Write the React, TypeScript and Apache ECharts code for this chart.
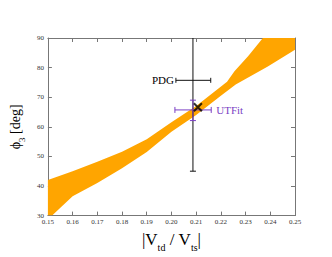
import React, { useEffect, useRef } from "react";
import * as echarts from "echarts";

// Allowed band (orange): upper and lower boundaries
const upperX = [0.15, 0.16, 0.17, 0.18, 0.19, 0.2, 0.21, 0.2225, 0.2255, 0.231, 0.237, 0.25];
const upperY = [42, 45, 48.2, 51.6, 55.8, 61.5, 67, 75.2, 78.8, 83.8, 90, 90];
const lowerX = [0.15, 0.1517, 0.16, 0.17, 0.18, 0.19, 0.2, 0.21, 0.22, 0.226, 0.239, 0.25];
const lowerY = [30, 30, 36.5, 41, 46, 51.5, 58.3, 64, 70.5, 74.3, 80.4, 86];

// Error-bar measurements
const measNames = ["PDG", "UTFit"];
const measX = [0.2087, 0.2087];
const measXLo = [0.2018, 0.2014];
const measXHi = [0.2159, 0.2161];
const measY = [75.7, 65.7];
const measYLo = [45, 62.1];
const measYHi = [106, 69];
const measColors = ["#111111", "#7a3fc4"];

// Best-fit point
const fitPoint = [[0.2107, 66.6]];

const SERIF = "'Liberation Serif', 'DejaVu Serif', serif";

export default function App() {
  const ref = useRef<HTMLDivElement>(null);
  useEffect(() => {
    if (!ref.current) return;
    const chart = echarts.init(ref.current, null, { renderer: "svg" });
    const axisColor = "#777";
    const labelStyle = { fontSize: 7, color: "#333", fontFamily: SERIF };
    const measData = measNames.map((n, i) => [measX[i], measY[i], measXLo[i], measXHi[i], measYLo[i], measYHi[i], i]);
    chart.setOption({
      animation: false,
      grid: { left: 39, top: 38, right: 37, bottom: 39 },
      xAxis: [
        {
          type: "value",
          min: 0.15,
          max: 0.25,
          interval: 0.01,
          position: "bottom",
          axisLine: { lineStyle: { color: axisColor } },
          axisTick: { inside: true, length: 4, lineStyle: { color: axisColor } },
          axisLabel: { ...labelStyle, margin: 3, showMinLabel: true, showMaxLabel: true, formatter: (v: number) => v.toFixed(2) },
          splitLine: { show: false },
          name: "{a||V}{s|td}{a| / V}{s|ts}{a||}",
          nameLocation: "middle",
          nameGap: 8,
          nameTextStyle: {
            fontFamily: SERIF,
            color: "#000",
            rich: {
              a: { fontSize: 17, fontFamily: SERIF, color: "#000", lineHeight: 26, verticalAlign: "middle" },
              s: { fontSize: 10, fontFamily: SERIF, color: "#000", lineHeight: 10, verticalAlign: "bottom" },
            },
          },
        },
        {
          type: "value",
          min: 0.15,
          max: 0.25,
          interval: 0.01,
          position: "top",
          axisLine: { lineStyle: { color: axisColor } },
          axisTick: { inside: true, length: 4, lineStyle: { color: axisColor } },
          axisLabel: { show: false },
          splitLine: { show: false },
        },
      ],
      yAxis: [
        {
          type: "value",
          min: 30,
          max: 90,
          interval: 10,
          position: "left",
          axisLine: { lineStyle: { color: axisColor } },
          axisTick: { inside: true, length: 4, lineStyle: { color: axisColor } },
          axisLabel: { ...labelStyle, margin: 4, showMinLabel: true, showMaxLabel: true },
          splitLine: { show: false },
          name: "{a|ϕ}{s|3}{a| [deg]}",
          nameLocation: "middle",
          nameGap: 8,
          nameTextStyle: {
            fontFamily: SERIF,
            color: "#000",
            rich: {
              a: { fontSize: 14, fontFamily: SERIF, color: "#000", lineHeight: 22, verticalAlign: "middle" },
              s: { fontSize: 9, fontFamily: SERIF, color: "#000", lineHeight: 9, verticalAlign: "bottom" },
            },
          },
        },
        {
          type: "value",
          min: 30,
          max: 90,
          interval: 10,
          position: "right",
          axisLine: { lineStyle: { color: axisColor } },
          axisTick: { inside: true, length: 4, lineStyle: { color: axisColor } },
          axisLabel: { show: false },
          splitLine: { show: false },
        },
      ],
      series: [
        {
          type: "custom",
          coordinateSystem: "cartesian2d",
          clip: true,
          silent: true,
          z: 1,
          data: [[0.2, 60]],
          renderItem: (_params: any, api: any) => {
            const pts = [
              ...upperX.map((x, i) => api.coord([x, upperY[i]])),
              ...lowerX.map((x, i) => api.coord([x, lowerY[i]])).reverse(),
            ];
            return { type: "polygon", shape: { points: pts }, style: { fill: "#ffa500", stroke: "none" } };
          },
        },
        {
          type: "custom",
          coordinateSystem: "cartesian2d",
          clip: true,
          silent: true,
          z: 3,
          data: measData,
          renderItem: (_params: any, api: any) => {
            const idx = api.value(6);
            const color = measColors[idx];
            const c = api.coord([api.value(0), api.value(1)]);
            const xl = api.coord([api.value(2), api.value(1)]);
            const xh = api.coord([api.value(3), api.value(1)]);
            const yl = api.coord([api.value(0), api.value(4)]);
            const yh = api.coord([api.value(0), api.value(5)]);
            const st = { stroke: color, lineWidth: 1 };
            const cap = idx === 0 ? 2.5 : 3;
            const ln = (x1: number, y1: number, x2: number, y2: number) => ({
              type: "line",
              shape: { x1, y1, x2, y2 },
              style: st,
            });
            return {
              type: "group",
              children: [
                ln(xl[0], c[1], xh[0], c[1]),
                ln(xl[0], c[1] - cap, xl[0], c[1] + cap),
                ln(xh[0], c[1] - cap, xh[0], c[1] + cap),
                ln(c[0], yl[1], c[0], yh[1]),
                ln(c[0] - 3, yl[1], c[0] + 3, yl[1]),
                ln(c[0] - 3, yh[1], c[0] + 3, yh[1]),
              ],
            };
          },
        },
        {
          type: "custom",
          coordinateSystem: "cartesian2d",
          clip: false,
          silent: true,
          z: 4,
          data: measData,
          renderItem: (_params: any, api: any) => {
            const idx = api.value(6);
            const color = measColors[idx];
            const xl = api.coord([api.value(2), api.value(1)]);
            const xh = api.coord([api.value(3), api.value(1)]);
            const left = idx === 0;
            return {
              type: "text",
              x: left ? xl[0] - 2 : xh[0] + 5,
              y: xl[1],
              style: {
                text: measNames[idx],
                fill: idx === 0 ? "#000" : color,
                font: `11px ${SERIF}`,
                align: left ? "right" : "left",
                verticalAlign: "middle",
              },
            };
          },
        },
        {
          type: "scatter",
          z: 5,
          silent: true,
          data: fitPoint,
          symbol: "path://M0 0L10 10M10 0L0 10",
          symbolSize: 8,
          itemStyle: { color: "rgba(0,0,0,0)", borderColor: "#000", borderWidth: 2 },
        },
      ],
    });
    return () => chart.dispose();
  }, []);
  return <div ref={ref} style={{ position: "fixed", left: 0, top: 0, width: 332, height: 257, background: "#fff" }} />;
}
